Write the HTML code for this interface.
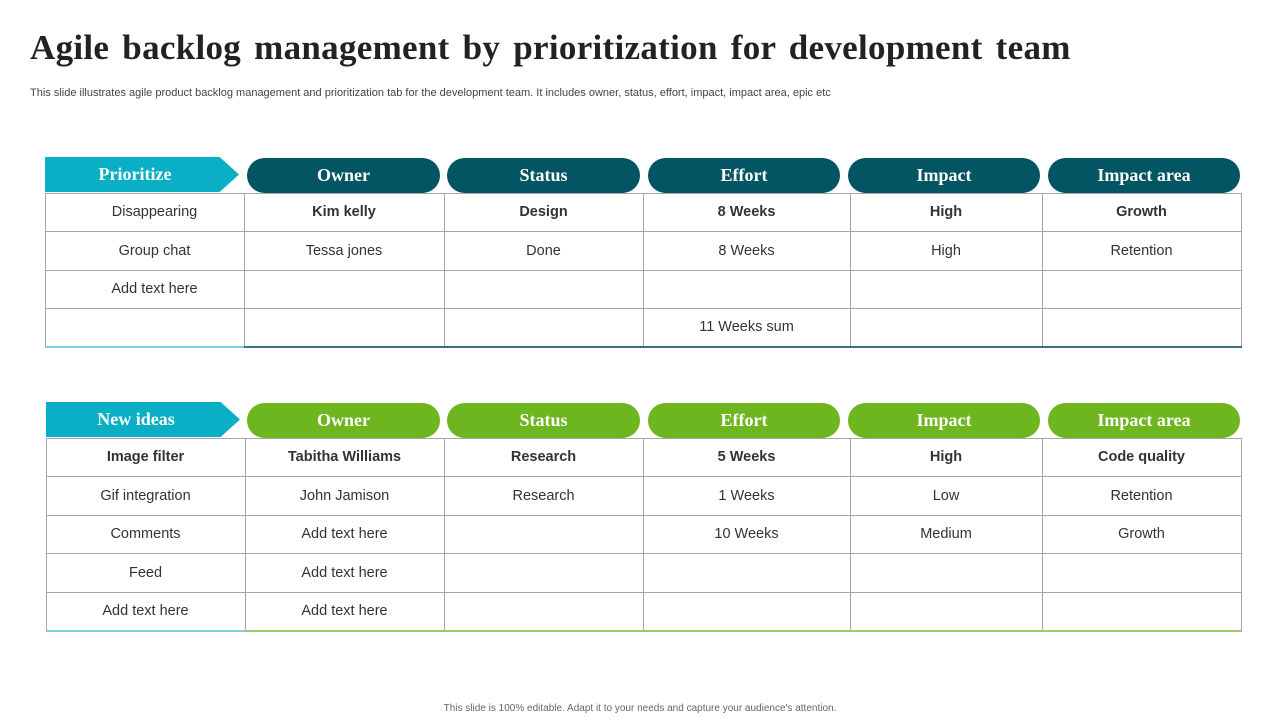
<!DOCTYPE html>
<html><head><meta charset="utf-8">
<style>
body{margin:0;width:1280px;height:720px;background:#fff;position:relative;overflow:hidden;font-family:"Liberation Sans",sans-serif;}
.abs{position:absolute;}
h1{position:absolute;left:30px;top:28px;margin:0;font-family:"Liberation Serif",serif;font-weight:bold;font-size:35px;color:#222;letter-spacing:0.3px;word-spacing:4px;}
.sub{left:30px;top:87px;font-size:11px;color:#444;}
.foot{left:0;width:1280px;top:703px;text-align:center;font-size:10px;color:#666;}
.hdr{position:absolute;color:#fff;font-family:"Liberation Serif",serif;font-weight:bold;font-size:18px;display:flex;align-items:center;justify-content:center;}
.pill{border-radius:18px;}
.cell{position:absolute;display:flex;align-items:center;justify-content:center;font-size:14.5px;color:#333;box-sizing:border-box;}
.b{font-weight:bold;}
.line{position:absolute;background:#a6a6a6;}
</style></head>
<body>
<h1>Agile backlog management by prioritization for development team</h1>
<div class="abs sub">This slide illustrates agile product backlog management and prioritization tab for the development team. It includes owner, status, effort, impact, impact area, epic etc</div>
<div class="abs foot">This slide is 100% editable. Adapt it to your needs and capture your audience's attention.</div>
<script>
const headers=["Owner","Status","Effort","Impact","Impact area"];
const t1Rows=[["Disappearing","Kim kelly","Design","8 Weeks","High","Growth"],["Group chat","Tessa jones","Done","8 Weeks","High","Retention"],["Add text here","","","","",""],["","","","11 Weeks sum","",""]];
const t2Rows=[["Image filter","Tabitha Williams","Research","5 Weeks","High","Code quality"],["Gif integration","John Jamison","Research","1 Weeks","Low","Retention"],["Comments","Add text here","","10 Weeks","Medium","Growth"],["Feed","Add text here","","","",""],["Add text here","Add text here","","","",""]];
function build(cfg){
  const xs=cfg.xs, ys=cfg.ys, pills=[[247,440],[447,640],[648,840],[848,1040],[1048,1240]];
  // arrow label
  const a=document.createElement('div');
  a.className='hdr';
  
  
  a.style.cssText=`left:${xs[0]}px;top:${cfg.hy}px;width:194px;height:35px;background:#0aaec5;clip-path:polygon(0 0,90% 0,100% 50%,90% 100%,0 100%);padding-right:14px;box-sizing:border-box;`;
  a.textContent=cfg.label;document.body.appendChild(a);
  headers.forEach((h,i)=>{
    const d=document.createElement('div');d.className='hdr pill';
    
    
    d.style.cssText=`left:${pills[i][0]}px;top:${cfg.hy+1}px;width:${pills[i][1]-pills[i][0]}px;height:35px;background:${cfg.color};`;
    d.textContent=h;document.body.appendChild(d);
  });
  // grid lines
  ys.forEach((y,i)=>{const l=document.createElement('div');l.className='line';
    
    
    l.style.cssText=`left:${xs[0]}px;top:${y}px;width:${xs[xs.length-1]-xs[0]+1}px;height:1px;`;
    if(i==ys.length-1){l.style.height='2px';l.style.background=`linear-gradient(90deg,#7fd0dc 0,#7fd0dc ${xs[1]-xs[0]}px,${cfg.bottom} ${xs[1]-xs[0]}px)`;}
    document.body.appendChild(l);});
  xs.forEach(x=>{const l=document.createElement('div');l.className='line';
    
    
    l.style.cssText=`left:${x}px;top:${ys[0]}px;width:1px;height:${ys[ys.length-1]-ys[0]}px;`;document.body.appendChild(l);});
  cfg.rows.forEach((r,ri)=>r.forEach((t,ci)=>{
    if(!t)return;const c=document.createElement('div');c.className='cell'+(ri==0&&ci>0||(ri==0&&cfg.key=='new-ideas')?' b':'');
    
    
    let w=xs[ci+1]-xs[ci];let left=xs[ci];if(ci==0&&cfg.key=='prioritize'){left+=20;w-=20;}
    c.style.cssText=`left:${left}px;top:${ys[ri]}px;width:${w}px;height:${ys[ri+1]-ys[ri]}px;`;
    c.textContent=t;document.body.appendChild(c);}));
}
build({key:'prioritize',label:'Prioritize',color:'#045563',bottom:'#3b6f86',hy:157,xs:[45,244,444,643,850,1042,1241],ys:[193,231,270,308,346],rows:t1Rows});
build({key:'new-ideas',label:'New ideas',color:'#6eb61f',bottom:'#9ccb6c',hy:402,xs:[46,245,444,643,850,1042,1241],ys:[438,476,515,553,592,630],rows:t2Rows});
</script>
</body></html>
